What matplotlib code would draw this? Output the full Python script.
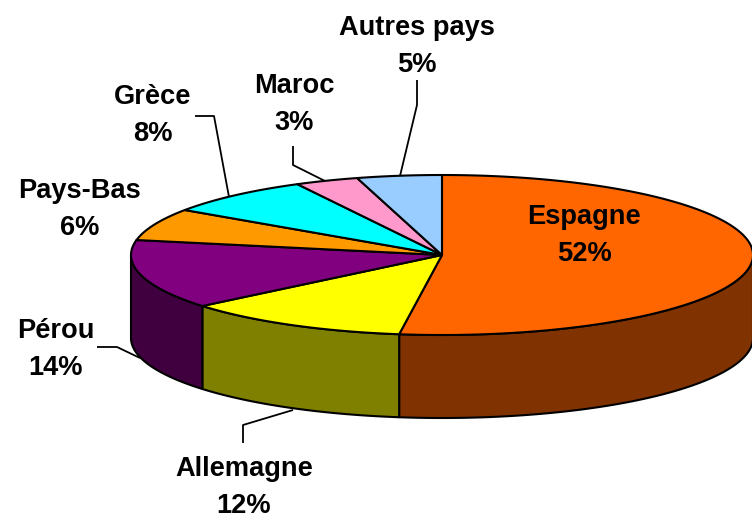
import numpy as np
import matplotlib
matplotlib.use('Agg')
import matplotlib.pyplot as plt
from matplotlib.patches import Polygon

# Chart data: slice sizes as measured on the rim, labels as printed
pays = ['Espagne', 'Allemagne', 'Pérou', 'Pays-Bas', 'Grèce', 'Maroc', 'Autres pays']
parts = [52.2, 11.8, 14.0, 6.5, 7.8, 3.3, 4.4]
etiquettes = ['52%', '12%', '14%', '6%', '8%', '3%', '5%']

# Colours of the top faces and the side faces
couleurs = ['#FF6600', '#FFFF00', '#800080', '#FF9900', '#00FFFF', '#FF99CC', '#99CCFF']
cotes = ['#803300', '#808000', '#400040', None, None, None, None]

# Label centres and leader lines, in picture pixels
pos_labels = [(584, 217), (244, 469), (56, 331), (80, 191), (153, 97), (294, 86), (417, 28)]
leaders = [
    [(243, 443), (243, 425), (293, 410)],
    [(97, 347), (117, 347), (140, 358)],
    [(195, 116), (214, 116), (229, 197)],
    [(293, 146), (293, 165), (325, 181)],
    [(417, 80), (417, 105), (400, 176)],
]

# Ellipse of the pie in picture pixels
cx, cy = 442, 255
rx, ry = 311, 80
epaisseur = 83


def bord(a1, a2):
    # Points on the rim, angles clockwise from the top of the pie
    a = np.radians(np.linspace(a1, a2, max(int(abs(a2 - a1)) * 2, 2)))
    return np.column_stack([cx + rx * np.sin(a), cy - ry * np.cos(a)])


fig = plt.figure(figsize=(7.52, 5.19), dpi=100)
ax = fig.add_axes([0, 0, 1, 1])
ax.set_xlim(0, 752)
ax.set_ylim(519, 0)
ax.axis('off')

angles = np.concatenate([[0], np.cumsum(parts)]) * 3.6

# Side faces, only the front half of the rim shows
for i in range(len(parts)):
    a1 = max(angles[i], 90)
    a2 = min(angles[i + 1], 270)
    if a2 <= a1 or cotes[i] is None:
        continue
    haut = bord(a1, a2)
    bas = haut[::-1] + [0, epaisseur]
    ax.add_patch(Polygon(np.vstack([haut, bas]), closed=True, facecolor=cotes[i],
                         edgecolor='black', linewidth=1.5, joinstyle='round'))

# Top faces
for i in range(len(parts)):
    pts = np.vstack([[cx, cy], bord(angles[i], angles[i + 1])])
    ax.add_patch(Polygon(pts, closed=True, facecolor=couleurs[i],
                         edgecolor='black', linewidth=1.5, joinstyle='round'))

# Leader lines
for ligne in leaders:
    xs, ys = zip(*ligne)
    ax.plot(xs, ys, color='black', linewidth=1.3, solid_capstyle='butt')

# Labels
police = dict(family=['Liberation Sans', 'DejaVu Sans'], fontsize=19.6, fontweight='bold',
              ha='center', va='center', color='black')
for nom, etiquette, (x, y) in zip(pays, etiquettes, pos_labels):
    ax.text(x, y, nom, **police)
    ax.text(x, y + 37, etiquette, **police)

fig.savefig('out.png', dpi=100)
